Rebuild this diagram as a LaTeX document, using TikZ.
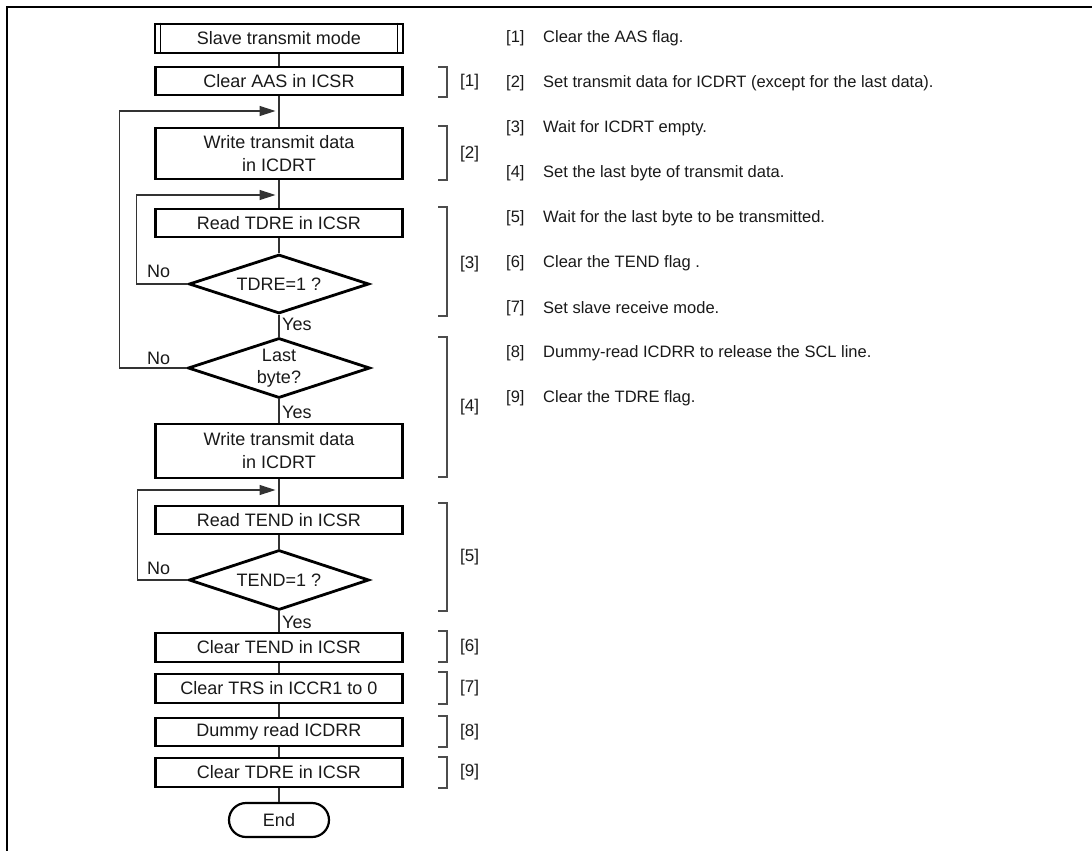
\documentclass[tikz,border=0pt]{standalone}
\usepackage{fontspec}
\setmainfont{Liberation Sans}
\usetikzlibrary{shapes.geometric,arrows.meta}
\begin{document}
\begin{tikzpicture}[x=1pt,y=-1pt,
  box/.style={draw=black,line width=2.8pt,minimum width=247pt,inner sep=0pt,font=\fontsize{18}{23}\selectfont,align=center,text=black!90},
  dia/.style={draw=black,line width=2.8pt,shape=diamond,inner sep=0pt,minimum width=180pt,minimum height=59pt},
  txt/.style={font=\fontsize{18}{22}\selectfont,inner sep=0pt,align=center,text=black!90},
  conn/.style={line width=1.4pt,draw=black!80},
  loopc/.style={conn,-{Triangle[length=16pt,width=10pt]},shorten >=3.5pt},
  brk/.style={line width=1.3pt,draw=black!70},
  yn/.style={font=\fontsize{18}{22}\selectfont,inner sep=0pt,anchor=west,text=black!90},
  lbl/.style={font=\fontsize{17}{20}\selectfont,inner sep=0pt,anchor=west,text=black!90},
  note/.style={font=\fontsize{16.5}{20}\selectfont,inner sep=0pt,anchor=west,text=black!90}]
\useasboundingbox (0,0) rectangle (1092,851);
\draw[line width=2.5pt] (7,851) -- (7,7) -- (1092,7);

% flowchart nodes
\node[box,minimum width=248pt,minimum height=29pt] (start) at (279,38.5) {Slave transmit mode};
\draw[line width=1.3pt] ([xshift=7pt]start.north west) -- ([xshift=7pt]start.south west);
\draw[line width=1.3pt] ([xshift=-7pt]start.north east) -- ([xshift=-7pt]start.south east);
\node[box,minimum height=28pt] (b1) at (279,81) {Clear AAS in ICSR};
\node[box,minimum height=51pt] (b2) at (279,153.5) {Write transmit data\\in ICDRT};
\node[box,minimum height=28pt] (b3) at (279,223) {Read TDRE in ICSR};
\node[dia] (d1) at (279,284) {};
\node[txt] (t1) at (d1.center) {TDRE=1 ?};
\node[dia,minimum width=182pt,minimum height=60pt] (d2) at (279,368) {};
\node[txt] (t2) at (d2.center) {Last\\byte?};
\node[box,minimum height=54pt] (b4) at (279,451) {Write transmit data\\in ICDRT};
\node[box,minimum height=28pt] (b5) at (279,520) {Read TEND in ICSR};
\node[dia,minimum height=60pt] (d3) at (279,580) {};
\node[txt] (t3) at (d3.center) {TEND=1 ?};
\node[box,minimum height=29pt] (b6) at (279,647.5) {Clear TEND in ICSR};
\node[box,minimum height=29pt] (b7) at (279,688.5) {Clear TRS in ICCR1 to 0};
\node[box,minimum height=28pt] (b8) at (279,732) {Dummy read ICDRR};
\node[box,minimum height=29pt] (b9) at (279,772.5) {Clear TDRE in ICSR};
\node[box,line width=2.2pt,minimum width=100pt,minimum height=34pt,rounded corners=17pt] (endn) at (279,820) {End};

% junctions on the main line
\coordinate (j1) at (279,111);
\coordinate (j2) at (279,195);
\coordinate (j3) at (279,490);

% main connectors
\draw[conn] (start) -- (b1);
\draw[conn] (b1) -- (b2);
\draw[conn] (b2) -- (b3);
\draw[conn] (b3) -- (d1);
\draw[conn] (d1) -- (d2);
\draw[conn] (d2) -- (b4);
\draw[conn] (b4) -- (b5);
\draw[conn] (b5) -- (d3);
\draw[conn] (d3) -- (b6);
\draw[conn] (b6) -- (b7);
\draw[conn] (b7) -- (b8);
\draw[conn] (b8) -- (b9);
\draw[conn] (b9) -- (endn);

% loops
\draw[loopc] (d2.west) -- ++(-67,0) |- (j1);
\draw[loopc] (d1.west) -- ++(-51,0) |- (j2);
\draw[loopc] (d3.west) -- ++(-50,0) |- (j3);

% yes / no labels
\node[yn] (no1) at (147,271) {No};
\node[yn] (no2) at (147,358) {No};
\node[yn] (no3) at (147,568) {No};
\node[yn] (yes1) at (282,324) {Yes};
\node[yn] (yes2) at (282,412) {Yes};
\node[yn] (yes3) at (282,622) {Yes};

% brackets
\foreach \a/\b/\c/\n in {67/97/82/1, 126/180/154/2, 207/316/264/3, 337/477/407/4, 503/611/557/5, 631/662/647/6, 672/704/688/7, 716/747/732/8, 757/788/772/9}{
  \draw[brk] (438,\a) -- (447,\a) -- (447,\b) -- (438,\b);
  \node[lbl] (bl\n) at (460,\c) {[\n]};
}

% notes
\foreach \n/\t [count=\i from 0] in {1/Clear the AAS flag., 2/Set transmit data for ICDRT (except for the last data)., 3/Wait for ICDRT empty., 4/Set the last byte of transmit data., 5/Wait for the last byte to be transmitted., 6/Clear the TEND flag ., 7/Set slave receive mode., 8/Dummy-read ICDRR to release the SCL line., 9/Clear the TDRE flag.}{
  \node[note] (nn\n) at (506,38+45*\i) {[\n]};
  \node[note] (nt\n) at (543,38+45*\i) {\t};
}
\end{tikzpicture}
\end{document}
